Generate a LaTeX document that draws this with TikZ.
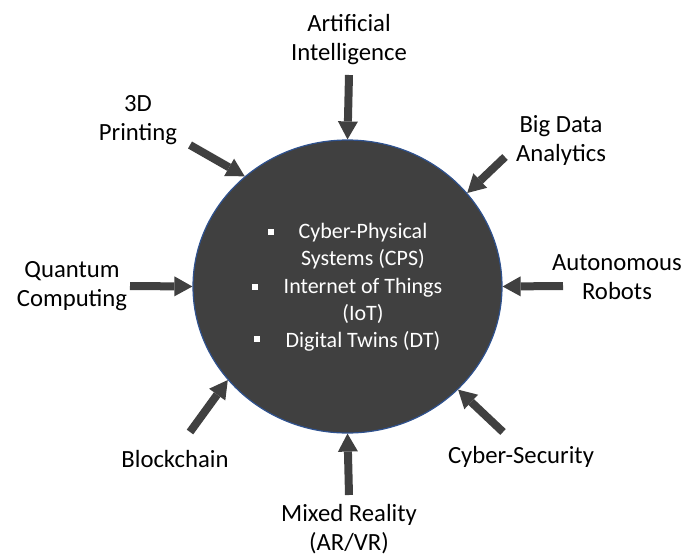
\documentclass[tikz,border=0pt]{standalone}
\usepackage{fontspec}
\setmainfont{Carlito}
\usetikzlibrary{arrows.meta,shapes.geometric}
\definecolor{hubgray}{HTML}{404040}
\definecolor{hubblue}{HTML}{2F528F}
\begin{document}
\begin{tikzpicture}[x=1pt,y=-1pt,line join=round,
	feed/.style={draw=hubgray,line width=8pt,-{Triangle[width=20pt,length=18pt,line width=0pt]}},
	lbl/.style={align=center,font=\fontsize{24.7}{29}\selectfont,inner sep=0pt},
	item/.style={text=white,font=\fontsize{22}{27}\selectfont,inner sep=0pt,text height=15pt,text depth=5pt},
	dot/.style={fill=white,minimum size=6pt,inner sep=0pt}]
				\useasboundingbox (0,0) rectangle (686,558);
				% central circle
				\node[ellipse,fill=hubgray,draw=hubblue,line width=1.2pt,minimum width=309pt,minimum height=293pt,inner sep=0pt] (hub) at (347.5,286.5) {};
				\node[item] (cps1) at (363,233) {Cyber-Physical};
				\node[item] (cps2) at (363,260) {Systems (CPS)};
				\node[item] (iot1) at (363,288) {Internet of Things};
				\node[item] (iot2) at (363,315) {(IoT)};
				\node[item] (dt) at (363,342) {Digital Twins (DT)};
				\node[dot] (b1) at (271,232) {};
				\node[dot] (b2) at (255,287) {};
				\node[dot] (b3) at (257,339) {};
				% technologies around
				\node[lbl] (ai) at (349,40) {Artificial\\Intelligence};
				\node[lbl] (pr) at (138,120) {3D\\Printing};
				\node[lbl] (bd) at (561,140) {Big Data\\Analytics};
				\node[lbl] (qc) at (72,286) {Quantum\\Computing};
				\node[lbl] (ar) at (617,277) {Autonomous\\Robots};
				\node[lbl] (bc) at (175,459) {Blockchain};
				\node[lbl] (cs) at (521,457) {Cyber-Security};
				\node[lbl] (mr) at (349,529) {Mixed Reality\\(AR/VR)};
				% arrow tails
				\coordinate (ait) at (349,75);
				\coordinate (prt) at (190,145);
				\coordinate (bdt) at (505,157);
				\coordinate (qct) at (130,286);
				\coordinate (art) at (563,286);
				\coordinate (bct) at (190,432);
				\coordinate (cst) at (503,432);
				\coordinate (mrt) at (349,495);
				\draw[feed] (ait) -- (hub.90);
				\draw[feed] (prt) -- (hub.133.4);
				\draw[feed] (bdt) -- (hub.38.9);
				\draw[feed] (qct) -- (hub.180);
				\draw[feed] (art) -- (hub.0);
				\draw[feed] (bct) -- (hub.218.5);
				\draw[feed] (cst) -- (hub.317.9);
				\draw[feed] (mrt) -- (hub.270);
			\end{tikzpicture}
\end{document}
